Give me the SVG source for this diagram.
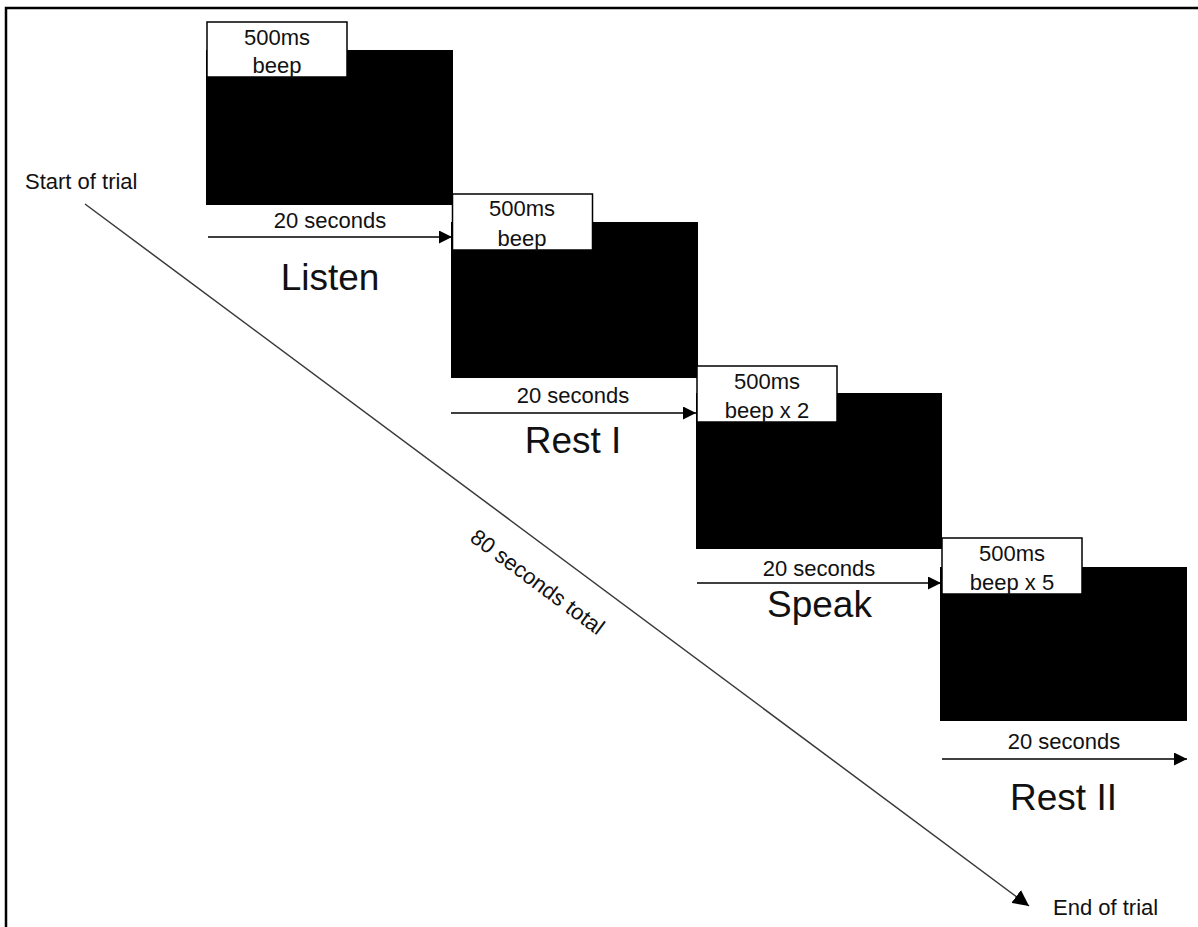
<svg xmlns="http://www.w3.org/2000/svg" width="1198" height="927" viewBox="0 0 1198 927">
<style>
text{font-family:"Liberation Sans",Arial,sans-serif;fill:#111}
.lbl{font-size:22px;text-anchor:middle}
.big{font-size:37px;text-anchor:middle}
.sm{font-size:22px}
.scr{fill:#000}
.beep{fill:#fff;stroke:#000;stroke-width:1.5}
.arr{stroke:#000;stroke-width:1.3;fill:none}
.diag{stroke:#3a3a3a;stroke-width:1.5;fill:none}
</style>
<defs>
<marker id="ah" viewBox="0 0 10 10" refX="10" refY="5" markerWidth="13" markerHeight="13" markerUnits="userSpaceOnUse" orient="auto">
<path d="M0,0 L10,5 L0,10 Z" fill="#000"/>
</marker>
<marker id="ah2" viewBox="0 0 10 10" refX="10" refY="5" markerWidth="16" markerHeight="16" markerUnits="userSpaceOnUse" orient="auto">
<path d="M0,0 L10,5 L0,10 Z" fill="#000"/>
</marker>
</defs>
<rect width="1198" height="927" fill="#fff"/>
<path d="M6,927 V8 H1198" fill="none" stroke="#000" stroke-width="2.5"/>

<g id="block-listen">
<rect class="scr" x="206" y="50" width="247" height="155"/>
<rect class="beep" x="207" y="22" width="140" height="55"/>
<text class="lbl" x="277" y="45">500ms</text>
<text class="lbl" x="277" y="73">beep</text>
<text class="lbl" x="330" y="228">20 seconds</text>
<text class="big" x="330" y="290">Listen</text>
</g>

<g id="block-rest1">
<rect class="scr" x="451" y="222" width="247" height="156"/>
<rect class="beep" x="452.5" y="194" width="140" height="56"/>
<text class="lbl" x="522" y="216">500ms</text>
<text class="lbl" x="522" y="246">beep</text>
<text class="lbl" x="573" y="403">20 seconds</text>
<text class="big" x="573" y="453">Rest I</text>
</g>

<g id="block-speak">
<rect class="scr" x="696" y="393" width="246" height="156"/>
<rect class="beep" x="697" y="366" width="140" height="56"/>
<text class="lbl" x="767" y="389">500ms</text>
<text class="lbl" x="767" y="418">beep x 2</text>
<text class="lbl" x="819" y="576">20 seconds</text>
<text class="big" x="819.5" y="617">Speak</text>
</g>

<g id="block-rest2">
<rect class="scr" x="940" y="567" width="247" height="154"/>
<rect class="beep" x="942" y="538" width="140" height="56"/>
<text class="lbl" x="1012" y="561">500ms</text>
<text class="lbl" x="1012" y="590">beep x 5</text>
<text class="lbl" x="1064" y="749">20 seconds</text>
<text class="big" x="1063.5" y="810">Rest II</text>
</g>

<g id="start-label"><text class="sm" x="25" y="189">Start of trial</text></g>
<g id="end-label"><text class="sm" x="1053" y="915">End of trial</text></g>
<g id="total-label"><text class="lbl" transform="translate(533,588) rotate(36.6)">80 seconds total</text></g>

<g id="connectors">
<line class="arr" x1="208" y1="237" x2="452" y2="237" marker-end="url(#ah)"/>
<line class="arr" x1="451" y1="413" x2="696" y2="413" marker-end="url(#ah)"/>
<line class="arr" x1="697" y1="583" x2="941" y2="583" marker-end="url(#ah)"/>
<line class="arr" x1="942" y1="759" x2="1187" y2="759" marker-end="url(#ah)"/>
<line class="diag" x1="85" y1="204" x2="1029" y2="906" marker-end="url(#ah2)"/>
</g>
</svg>
